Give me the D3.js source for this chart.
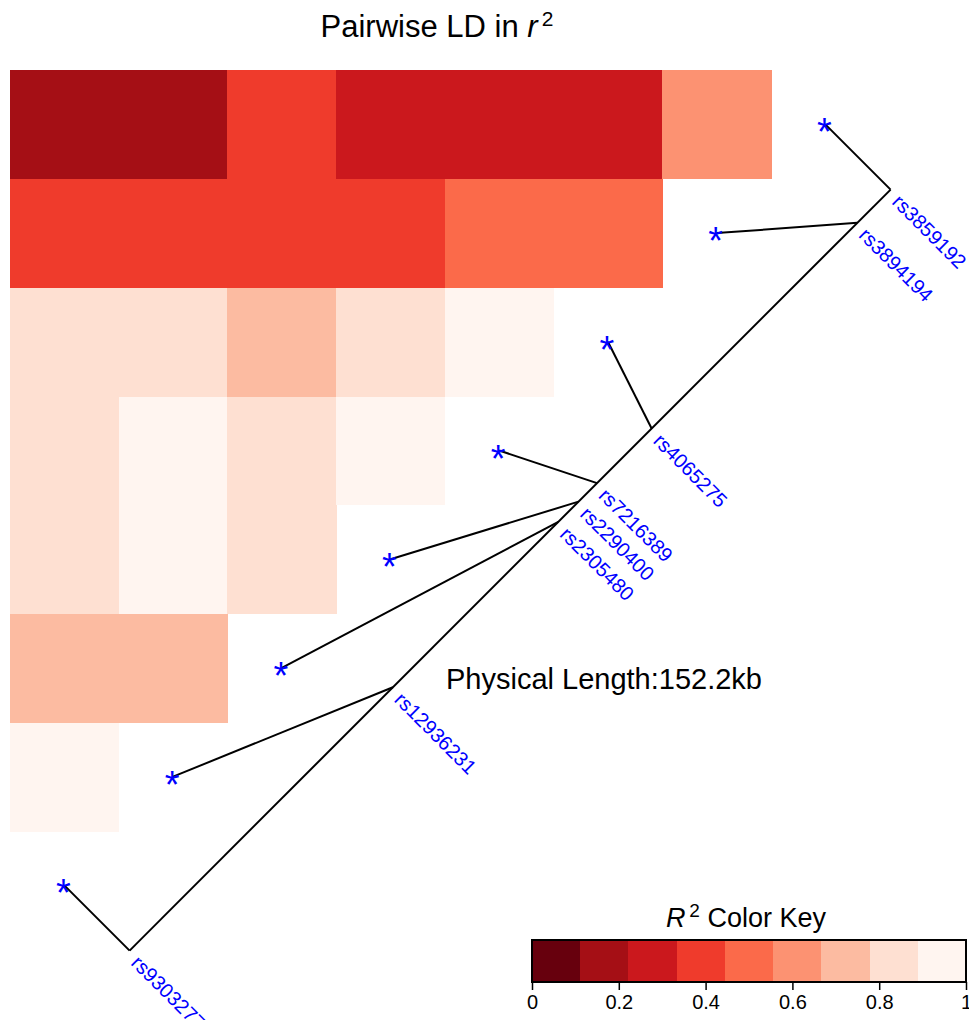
<!DOCTYPE html>
<html>
<head>
<meta charset="utf-8">
<script src="https://cdn.jsdelivr.net/npm/d3@7"></script>
<style>
  body { margin: 0; background: #fff; }
  svg { display: block; font-family: "Liberation Sans", Arial, sans-serif; }
</style>
</head>
<body>
<script>
// SNP names and physical positions (bp)
let snps = ["rs9303277", "rs12936231", "rs2305480", "rs2290400",
            "rs7216389", "rs4065275", "rs3894194", "rs3859192"];
let positions = [37976469, 38029120, 38062196, 38066240,
                 38069949, 38080865, 38121993, 38128648];

// pairwise r^2 of each SNP with the SNPs before it
let ld_rs12936231 = [0.95];
let ld_rs2305480 = [0.72, 0.72];
let ld_rs2290400 = [0.82, 0.95, 0.82];
let ld_rs7216389 = [0.82, 0.95, 0.82, 0.95];
let ld_rs4065275 = [0.82, 0.82, 0.72, 0.82, 0.95];
let ld_rs3894194 = [0.40, 0.40, 0.40, 0.40, 0.50, 0.50];
let ld_rs3859192 = [0.15, 0.15, 0.40, 0.28, 0.28, 0.28, 0.60];
let ldRows = [[], ld_rs12936231, ld_rs2305480, ld_rs2290400, ld_rs7216389,
              ld_rs4065275, ld_rs3894194, ld_rs3859192];

let keyTicks = [0, 0.2, 0.4, 0.6, 0.8, 1];

let width = 969, height = 1020;
let svg = d3.select("body").append("svg")
    .attr("width", width)
    .attr("height", height);

let gridLeft = 10, gridTop = 70, cell = 761 / 7;
let n = snps.length;
let idx = d3.range(n);

let x = d3.scaleBand(idx, [gridLeft, gridLeft + n * cell]);
let y = d3.scaleBand(idx.slice().reverse(), [gridTop, gridTop + n * cell]);

let color = d3.scaleQuantize([0, 1], d3.schemeReds[9].slice().reverse());

// heatmap cells
let cells = [];
ldRows.forEach((row, j) => row.forEach((v, i) => cells.push({i: i, j: j, v: v})));

svg.append("g")
    .attr("shape-rendering", "crispEdges")
  .selectAll("rect")
  .data(cells)
  .join("rect")
    .attr("x", d => x(d.i))
    .attr("y", d => y(d.j))
    .attr("width", cell + 0.5)
    .attr("height", cell + 0.5)
    .attr("fill", d => color(d.v));

// genetic map line along the diagonal
let off = 0.6 * cell;
let diagX = k => x(k) + cell / 2;
let diagY = k => y(k) + cell / 2;
let mapX = d3.scaleLinear([positions[0], positions[n - 1]], [diagX(0) + off, diagX(n - 1) + off]);
let mapY = d3.scaleLinear([positions[0], positions[n - 1]], [diagY(0) + off, diagY(n - 1) + off]);

let map = svg.append("g").attr("stroke", "#000").attr("stroke-width", 2).attr("fill", "none");
map.append("line")
    .attr("x1", mapX(positions[0])).attr("y1", mapY(positions[0]))
    .attr("x2", mapX(positions[n - 1])).attr("y2", mapY(positions[n - 1]));
map.selectAll("line.seg")
  .data(idx)
  .join("line")
    .attr("class", "seg")
    .attr("x1", k => diagX(k)).attr("y1", k => diagY(k))
    .attr("x2", k => mapX(positions[k])).attr("y2", k => mapY(positions[k]));

// stars at the diagonal
svg.append("g")
  .selectAll("text")
  .data(idx)
  .join("text")
    .attr("x", k => diagX(k) - 1)
    .attr("y", k => diagY(k) + 21)
    .attr("text-anchor", "middle")
    .attr("fill", "#0000ff")
    .style("font-size", "38px")
    .text("*");

// SNP labels
svg.append("g")
  .selectAll("text")
  .data(idx)
  .join("text")
    .attr("transform", k => `translate(${mapX(positions[k]) + 7},${mapY(positions[k]) + 7}) rotate(45)`)
    .attr("dy", "0.46em")
    .attr("fill", "#0000ff")
    .style("font-size", "20px")
    .text(k => snps[k]);

// title
let title = svg.append("text")
    .attr("x", 437)
    .attr("y", 37)
    .attr("text-anchor", "middle")
    .style("font-size", "31px");
title.append("tspan").text("Pairwise LD in ");
title.append("tspan").style("font-style", "italic").text("r");
title.append("tspan").attr("dy", -11).style("font-size", "21px").text("\u2009" + "2");

let lengthKb = (positions[n - 1] - positions[0]) / 1000;
svg.append("text")
    .attr("x", 446)
    .attr("y", 689)
    .style("font-size", "29px")
    .text("Physical Length:" + lengthKb.toFixed(1) + "kb");

// colour key
let keyX = d3.scaleLinear([0, 1], [532, 966]);
let keyTop = 940, keyBottom = 982;
let bins = color.range().map((c, i) => ({c: c, lo: i / 9, hi: (i + 1) / 9}));

let key = svg.append("g");
key.selectAll("rect.bin")
  .data(bins)
  .join("rect")
    .attr("class", "bin")
    .attr("shape-rendering", "crispEdges")
    .attr("x", d => keyX(d.lo))
    .attr("y", keyTop)
    .attr("width", d => keyX(d.hi) - keyX(d.lo) + 0.5)
    .attr("height", keyBottom - keyTop)
    .attr("fill", d => d.c);
key.append("rect")
    .attr("x", keyX(0)).attr("y", keyTop)
    .attr("width", keyX(1) - keyX(0)).attr("height", keyBottom - keyTop)
    .attr("fill", "none").attr("stroke", "#000").attr("stroke-width", 2);

key.append("g")
    .attr("transform", `translate(0,${keyBottom})`)
    .call(d3.axisBottom(keyX).tickValues(keyTicks).tickSize(8).tickPadding(5).tickFormat(d3.format("")))
    .call(g => g.select(".domain").remove())
    .call(g => g.selectAll(".tick line").attr("stroke-width", 1.5))
    .call(g => g.selectAll("text")
        .attr("fill", "#000")
        .style("font-size", "20px")
        .style("font-family", "Liberation Sans, Arial, sans-serif"));

let keyTitle = key.append("text")
    .attr("x", 746)
    .attr("y", 927)
    .attr("text-anchor", "middle")
    .style("font-size", "27px");
keyTitle.append("tspan").style("font-style", "italic").text("R");
keyTitle.append("tspan").attr("dy", -10).style("font-size", "19px").text("\u2009" + "2");
keyTitle.append("tspan").attr("dy", 10).text(" Color Key");
</script>
</body>
</html>
